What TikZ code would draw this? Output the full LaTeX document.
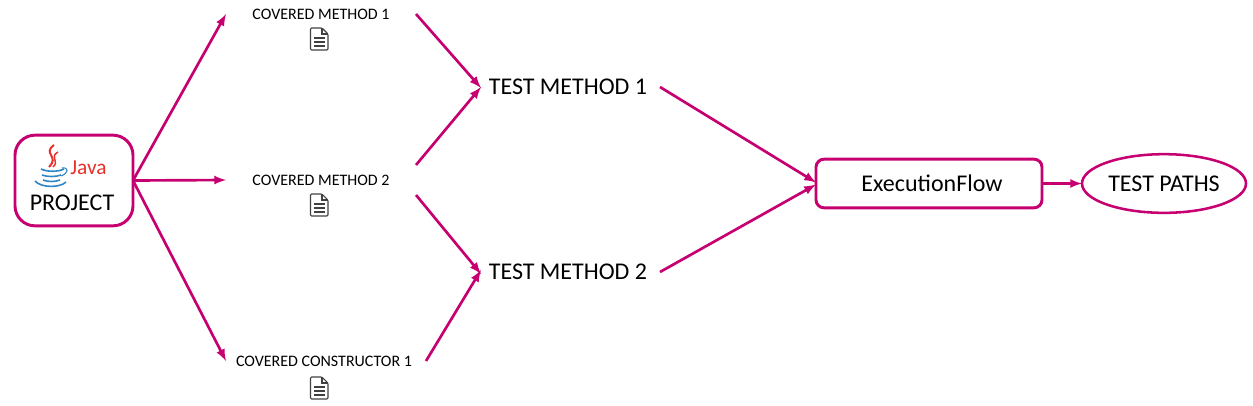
\documentclass[tikz,border=0pt]{standalone}
\usepackage{fontspec}
\setmainfont{Carlito}
\usetikzlibrary{shapes,arrows}
\definecolor{flowpink}{RGB}{198,0,112}
\definecolor{javared}{RGB}{232,48,44}
\definecolor{javablue}{RGB}{46,134,196}
\tikzset{
  box/.style={rectangle,rounded corners=#1,draw=flowpink,line width=2.2pt,outer sep=0pt},
  covered/.style={rectangle,outer sep=0pt,inner sep=0pt,font=\fontsize{12}{14}\selectfont},
  testm/.style={rectangle,outer sep=0pt,inner sep=0pt,minimum width=130.5pt,font=\fontsize{18}{21}\selectfont},
  flow/.style={-latex,draw=flowpink,line width=2pt},
  pics/docicon/.style={code={
    \draw[line width=.8pt,draw=black!75,rounded corners=.8pt]
      (-8.5,11) -- (-8.5,-11) -- (3,-11) -- (9,-5) -- (9,11) -- cycle;
    \draw[line width=.8pt,draw=black!75] (3,-11) -- (3,-5) -- (9,-5);
    \foreach \y in {-1,3,7}
      \draw[line width=.8pt,draw=black!75] (-5,\y) -- (5.5,\y);
  }}
}
\begin{document}
\begin{tikzpicture}[x=0.75pt,y=-0.75pt]
  \useasboundingbox (0,0) rectangle (1253,405);

  \node[box=15pt,minimum width=88.5pt,minimum height=68pt] (project) at (74,180.5) {};
  \node[inner sep=0pt,font=\fontsize{18}{21}\selectfont] (projectlabel) at (72,203) {PROJECT};
  \node[inner sep=0pt,text=javared,font=\fontsize{16}{18}\selectfont] (javalabel) at (88.5,168) {Java};

  \draw[javared,line width=1.5pt] (54,145) .. controls (42,154) and (60,156) .. (49,167);
  \draw[javared,line width=1.1pt] (58,152) .. controls (49,157) and (60,161) .. (53,167);
  \draw[javablue,line width=1.2pt] (41,169) .. controls (47,172) and (58,172) .. (64,169);
  \draw[javablue,line width=1.2pt] (42,175) .. controls (47,177) and (56,177) .. (61,175);
  \draw[javablue,line width=1.2pt] (43,180) .. controls (48,182) and (55,182) .. (60,180);
  \draw[javablue,line width=1.2pt] (35,181) .. controls (41,188) and (60,188) .. (66,182);
  \draw[javablue,line width=.8pt] (62,168) .. controls (69,167) and (69,173) .. (61,176);

  \node[covered,minimum width=142.5pt] (method1) at (321,14) {COVERED METHOD 1};
  \node[covered,minimum width=142.5pt,minimum height=22.5pt] (method2) at (321,180) {COVERED METHOD 2};
  \node[covered,minimum width=147pt] (constructor1) at (324,361) {COVERED CONSTRUCTOR 1};
  \pic at (319,39) {docicon};
  \pic at (319,205) {docicon};
  \pic at (319,388) {docicon};

  \node[testm] (test1) at (568,87) {TEST METHOD 1};
  \node[testm] (test2) at (568,272) {TEST METHOD 2};

  \node[box=6pt,minimum width=169.5pt,minimum height=36.5pt,font=\fontsize{18}{21}\selectfont] (execflow) at (929,183.5) {\hspace*{4.5pt}ExecutionFlow};
  \node[ellipse,draw=flowpink,line width=1.9pt,outer sep=0pt,inner sep=0pt,minimum width=123pt,minimum height=44pt,font=\fontsize{18}{21}\selectfont] (paths) at (1164,183.5) {TEST PATHS};

  \draw[flow] (project.east) -- (method1.west);
  \draw[flow] (project.east) -- (method2.west);
  \draw[flow] (project.east) -- (constructor1.west);
  \draw[flow] (method1.east) -- ([yshift=-.75pt]test1.west);
  \draw[flow] (method2.north east) -- (test1.west);
  \draw[flow] (method2.south east) -- ([yshift=-1.5pt]test2.west);
  \draw[flow] ([xshift=3pt]constructor1.east) -- ([yshift=1.5pt]test2.west);
  \draw[flow] ([xshift=3.75pt]test1.east) -- ([yshift=.75pt]execflow.west);
  \draw[flow] ([xshift=3.75pt]test2.east) -- ([yshift=-.75pt]execflow.west);
  \draw[flow] (execflow.east) -- (paths.west);
\end{tikzpicture}
\end{document}
